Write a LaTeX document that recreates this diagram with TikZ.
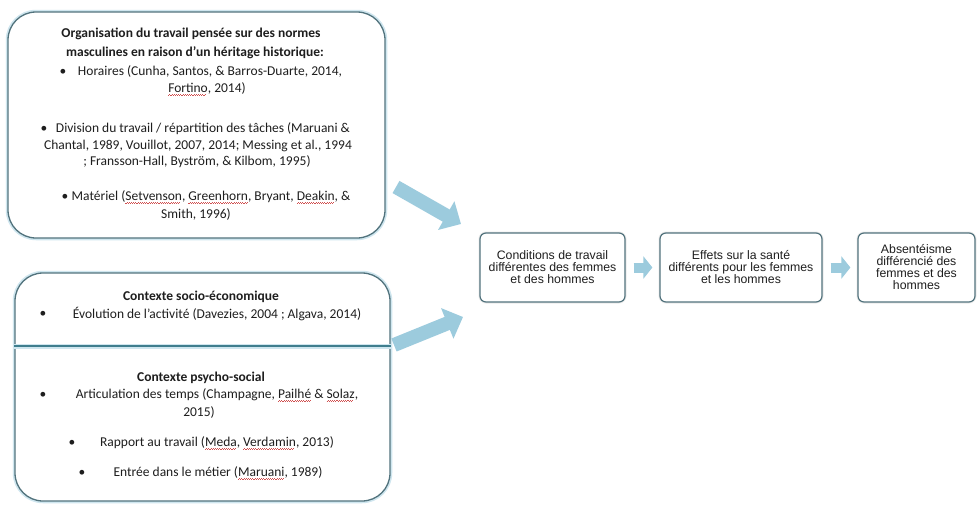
\documentclass[tikz,border=0pt]{standalone}
\usepackage{fontspec}
\setmainfont{Carlito}
\newfontfamily\arialf{Liberation Sans}
\usetikzlibrary{arrows.meta}
\definecolor{boxline}{HTML}{52737D}
\definecolor{glowc}{HTML}{CFE6EF}
\definecolor{arrowc}{HTML}{9CCBDD}
\definecolor{divc}{HTML}{3F7E8E}
\definecolor{txt}{HTML}{1E1E1E}
\definecolor{wavec}{HTML}{D05050}
\newcommand\spellerr[1]{\setbox0\hbox{#1}\rlap{\textcolor{wavec}{\leaders\hbox{\rule[-3.8pt]{1.1pt}{0.8pt}\rule[-3.0pt]{1.1pt}{0.8pt}}\hskip\wd0}}\box0\relax}
\begin{document}
\begin{tikzpicture}[x=1pt,y=-1pt,
  every node/.style={inner sep=0pt, text=txt},
  ltext/.style={font=\fontsize{13.5}{16}\selectfont},
  lhead/.style={font=\fontsize{13.5}{16}\selectfont\bfseries},
  lbox/.style={draw=boxline, line width=1.3pt, rounded corners=28pt, fill=white,
    preaction={draw=glowc, line width=4.5pt, rounded corners=28pt}},
  rbox/.style={draw=boxline, line width=1.2pt, rounded corners=6pt, fill=white, align=center,
    font=\arialf\fontsize{12.3}{12}\selectfont, text=black!88, minimum height=69pt,
    preaction={draw=black!8, line width=3pt, rounded corners=6pt}},
  bigarrow/.style={draw=arrowc, line width=14pt, -{Triangle[width=32pt,length=17pt]}},
  smallarrow/.style={draw=arrowc, line width=10pt, -{Triangle[width=22pt,length=9pt]}},
  ]
\useasboundingbox (0,0) rectangle (980,506);
\fill[white] (0,0) rectangle (980,506);

% left boxes
\node[lbox, minimum width=377pt, minimum height=226pt] (topbox) at (196.5,125) {};
\node[lbox, minimum width=375pt, minimum height=228pt] (botbox) at (202.5,387) {};

% top box text
\node[lhead] (h1) at (191,34) {Organisation du travail pensée sur des normes};
\node[lhead] (h2) at (195,53) {masculines en raison d’un héritage historique:};
\node[ltext] (b1) at (63,72) {\textbullet};
\node[ltext] (t1) at (210,72) {Horaires (Cunha, Santos, \& Barros-Duarte, 2014,};
\node[ltext] (t2) at (207,89) {\spellerr{Fortino}, 2014)};
\node[ltext] (b2) at (44,129) {\textbullet};
\node[ltext] (t3) at (203,129) {Division du travail / répartition des tâches (Maruani \&};
\node[ltext] (t4) at (198,146) {Chantal, 1989, Vouillot, 2007, 2014; Messing et al., 1994};
\node[ltext] (t5) at (197,162) {; Fransson-Hall, Byström, \& Kilbom, 1995)};
\node[ltext] (b3) at (65,197) {\textbullet};
\node[ltext] (t6) at (211,197) {Matériel (\spellerr{Setvenson}, \spellerr{Greenhorn}, Bryant, \spellerr{Deakin}, \&};
\node[ltext] (t7) at (196,214) {Smith, 1996)};

% bottom box text
\node[lhead] (h3) at (201,297) {Contexte socio-économique};
\node[ltext] (b4) at (43,314) {\textbullet};
\node[ltext] (t8) at (217,314) {Évolution de l'activité (Davezies, 2004 ; Algava, 2014)};
\coordinate (dv) at (0,346);
\draw[glowc, line width=5pt] (botbox.west |- dv) -- (botbox.east |- dv);
\draw[divc, line width=2.4pt] (botbox.west |- dv) -- (botbox.east |- dv);
\node[lhead] (h4) at (201,378) {Contexte psycho-social};
\node[ltext] (b5) at (43,395) {\textbullet};
\node[ltext] (t9) at (217,395) {Articulation des temps (Champagne, \spellerr{Pailhé} \& \spellerr{Solaz},};
\node[ltext] (t10) at (199,412) {2015)};
\node[ltext] (b6) at (72,443) {\textbullet};
\node[ltext] (t11) at (217,443) {Rapport au travail (\spellerr{Meda}, \spellerr{Verdamin}, 2013)};
\node[ltext] (b7) at (82,473) {\textbullet};
\node[ltext] (t12) at (218,473) {Entrée dans le métier (\spellerr{Maruani}, 1989)};

% right boxes
\node[rbox, minimum width=145pt] (c1) at (552.5,267.5) {Conditions de travail\\différentes des femmes\\et des hommes};
\node[rbox, minimum width=162pt] (c2) at (741,267.5) {Effets sur la santé\\différents pour les femmes\\et les hommes};
\node[rbox, minimum width=117pt] (c3) at (916.5,267.5) {Absentéisme\\différencié des\\femmes et des\\hommes};

% arrows
\coordinate (a1s) at (396,187);
\coordinate (a1e) at (461,224);
\coordinate (a2s) at (394,345);
\coordinate (a2e) at (463,317);
\draw[bigarrow] (a1s) -- (a1e);
\draw[bigarrow] (a2s) -- (a2e);
\draw[smallarrow] ([xshift=8pt]c1.east) -- ([xshift=-7pt]c2.west);
\draw[smallarrow] ([xshift=8pt]c2.east) -- ([xshift=-7pt]c3.west);
\end{tikzpicture}
\end{document}
